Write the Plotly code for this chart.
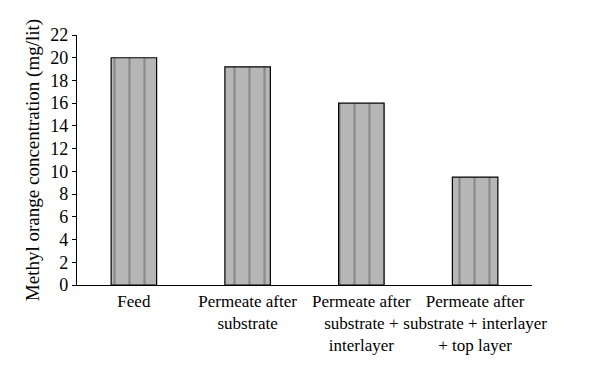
import plotly.graph_objects as go

categories = ["Feed", "Permeate after<br>substrate", "Permeate after<br>substrate +<br>interlayer",
              "Permeate after<br>substrate + interlayer<br>+ top layer"]
values = [20.0, 19.2, 16.0, 9.5]
y_ticks = list(range(0, 23, 2))

FONT = "Liberation Serif"

fig = go.Figure()
fig.add_trace(go.Bar(
    x=categories, y=values, width=0.4,
    marker=dict(
        color="#a9a9a9",
        line=dict(color="black", width=1.2),
        pattern=dict(shape="|", fgcolor="#5e5e5e", bgcolor="#b6b6b6", size=15, solidity=0.15, fillmode="overlay"),
    ),
    showlegend=False,
))

fig.update_layout(
    width=592, height=372,
    margin=dict(l=69, r=68, t=27, b=95),
    paper_bgcolor="white", plot_bgcolor="white",
    font=dict(family=FONT, size=17, color="black"),
    bargap=0.6,
)
fig.update_yaxes(
    range=[0, 22], tickvals=y_ticks, ticks="outside", ticklen=4, tickcolor="black",
    showline=True, linecolor="black", linewidth=1.2, showgrid=False, zeroline=False,
    tickfont=dict(family=FONT, size=18), automargin=False,
    title=dict(text="Methyl orange concentration (mg/lit)", font=dict(family=FONT, size=19), standoff=5),
)
fig.update_xaxes(
    showline=True, linecolor="black", linewidth=1.2, ticks="", showgrid=False, tickangle=0,
    tickfont=dict(family=FONT, size=17), automargin=False,
)

fig.write_html("out.html")
